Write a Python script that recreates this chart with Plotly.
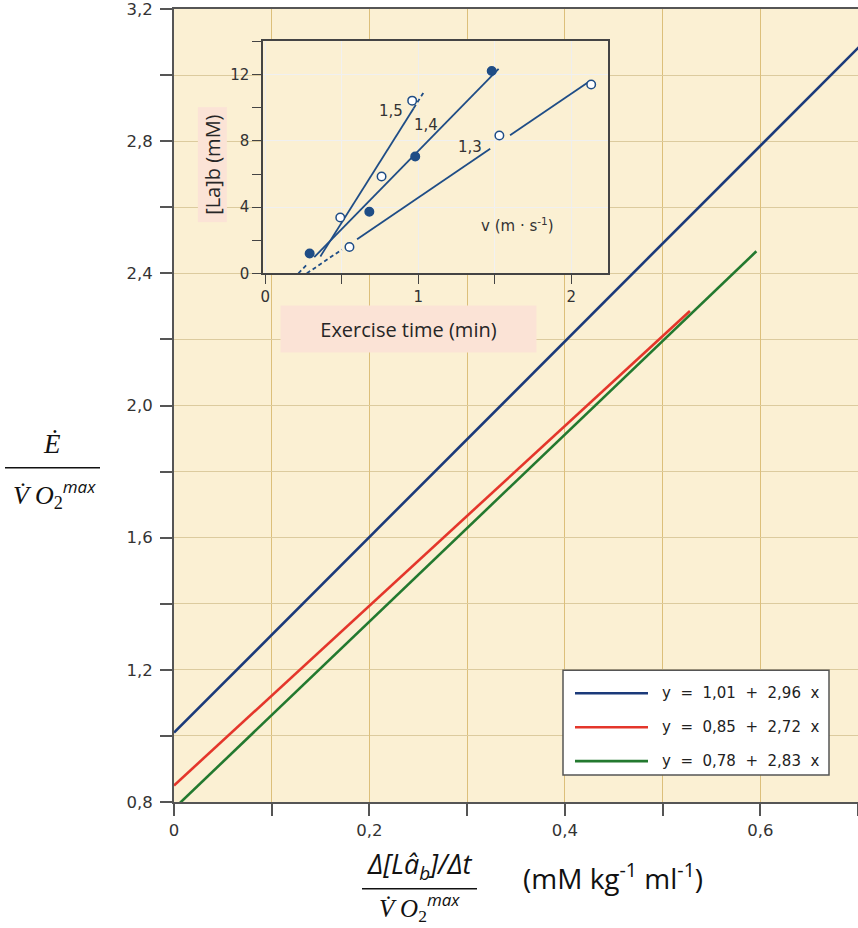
import numpy as np
import plotly.graph_objects as go

# ---- main relationship: E/VO2max = a + b * (Δ[La]/Δt)/VO2max ----
intercepts = [1.01, 0.85, 0.78]
slopes = [2.96, 2.72, 2.83]
x_ends = [0.75, 0.528, 0.596]
line_colors = ["#1b3a7a", "#e4362b", "#23792f"]

x_tick_vals = [0, 0.2, 0.4, 0.6]
x_tick_text = ["0", "0,2", "0,4", "0,6"]
y_tick_vals = [0.8, 1.2, 1.6, 2.0, 2.4, 2.8, 3.2]
y_tick_text = ["0,8", "1,2", "1,6", "2,0", "2,4", "2,8", "3,2"]

# ---- inset: blood lactate vs exercise time at three running speeds ----
speed_labels = ["1,5", "1,4", "1,3"]
time_15 = [0.49, 0.76, 0.96]
lact_15 = [3.38, 5.85, 10.44]
time_14 = [0.29, 0.68, 0.98, 1.48]
lact_14 = [1.20, 3.72, 7.06, 12.23]
time_13 = [0.55, 1.53, 2.13]
lact_13 = [1.59, 8.33, 11.42]

# pixel helpers for layout placement (plot area: x 174..858, y 7..802)
L, R, T, B = 174, 858, 7, 802
W, H = 858, 928


def pxx(p):
    return (p - L) / (R - L)


def pxy(p):
    return (B - p) / (B - T)


def note(xp, yp, text, size, family, color="#111", **kw):
    d = dict(x=pxx(xp), y=pxy(yp), xref="paper", yref="paper", text=text,
             showarrow=False, xanchor="center", yanchor="middle",
             font=dict(family=family, size=size, color=color))
    d.update(kw)
    return d


fig = go.Figure()

for a, b, xe, col in zip(intercepts, slopes, x_ends, line_colors):
    xs = np.array([0.0, xe])
    fig.add_trace(go.Scatter(x=xs, y=a + b * xs, mode="lines",
                             line=dict(color=col, width=2.6),
                             showlegend=False, hoverinfo="skip"))

ink = "#1f4d86"
series = [
    (time_15, lact_15, False,
     [(0.36, 0.97, "solid"), (0.97, 1.04, "dash")]),
    (time_14, lact_14, True,
     [("int", 0.28, "dash"), (0.32, 1.525, "solid")]),
    (time_13, lact_13, False,
     [("int", 0.50, "dash"), (0.60, 1.47, "solid"), (1.60, 2.115, "solid")]),
]

for t, la, filled, segs in series:
    k, c = np.polyfit(t, la, 1)
    for x0, x1, style in segs:
        if x0 == "int":
            x0 = -c / k
        xs = np.array([x0, x1])
        fig.add_trace(go.Scatter(
            x=xs, y=k * xs + c, mode="lines", xaxis="x2", yaxis="y2",
            line=dict(color=ink, width=1.8,
                      dash="4px,3px" if style == "dash" else "solid"),
            showlegend=False, hoverinfo="skip"))
    fig.add_trace(go.Scatter(
        x=t, y=la, mode="markers", xaxis="x2", yaxis="y2",
        marker=dict(size=8.5, color=ink if filled else "white",
                    line=dict(color=ink, width=1.5)),
        showlegend=False, hoverinfo="skip"))

shapes = []
annotations = []

# white panel behind the inset
shapes.append(dict(type="rect", xref="x2 domain", yref="y2 domain",
                   x0=0, x1=1, y0=0, y1=1, layer="below",
                   fillcolor="#fdfdfc", line=dict(width=0)))

# curve labels inside the inset
for txt, xx, yy in [(speed_labels[0], 0.82, 9.8), (speed_labels[1], 1.05, 8.95),
                    (speed_labels[2], 1.34, 7.65)]:
    annotations.append(dict(x=xx, y=yy, xref="x2", yref="y2", text=txt,
                            showarrow=False,
                            font=dict(family="DejaVu Sans", size=15, color="#333")))
annotations.append(dict(x=1.65, y=2.9, xref="x2", yref="y2",
                        text="v (m · s<sup>-1</sup>)", showarrow=False,
                        font=dict(family="DejaVu Sans", size=15, color="#333")))

# inset axis titles on pink tags
annotations.append(note(408, 328, "Exercise time (min)", 20, "Open Sans", "#262626",
                        width=253, height=44, bgcolor="#fbe3d6"))
annotations.append(note(212, 163, "[La]b (mM)", 20, "Open Sans", "#262626",
                        textangle=-90, width=112, height=26, bgcolor="#fbe3d6"))

# legend panel
shapes.append(dict(type="rect", xref="paper", yref="paper",
                   x0=pxx(563), x1=pxx(829), y0=pxy(775), y1=pxy(670),
                   fillcolor="white", line=dict(color="#555", width=1.5)))
for i, (a, b, col) in enumerate(zip(intercepts, slopes, line_colors)):
    yp = 693 + 34 * i
    shapes.append(dict(type="line", xref="paper", yref="paper",
                       x0=pxx(575), x1=pxx(648), y0=pxy(yp), y1=pxy(yp),
                       line=dict(color=col, width=2.6)))
    label = "y \u00a0= \u00a0{} \u00a0+ \u00a0{} \u00a0x".format(
        f"{a:.2f}".replace(".", ","), f"{b:.2f}".replace(".", ","))
    annotations.append(note(660, yp, label, 15, "DejaVu Sans", "#222",
                            xanchor="left"))

# y-axis title as a fraction
serif = "Liberation Serif"
denom = ("<i>V\u0307 O</i><sub>2</sub>"
         "<sup><span style='font-family:Open Sans;font-size:17px'><i>max</i></span></sup>")
annotations.append(note(52, 443, "<i>Ė</i>", 27, serif))
shapes.append(dict(type="line", xref="paper", yref="paper",
                   x0=pxx(5), x1=pxx(100), y0=pxy(467), y1=pxy(467),
                   line=dict(color="#111", width=1.5)))
annotations.append(note(54, 493, denom, 26, serif))

# x-axis title as a fraction plus units
annotations.append(note(420, 866, "<i>Δ[Lâ<sub>b</sub>]/Δt</i>", 27, "Open Sans"))
shapes.append(dict(type="line", xref="paper", yref="paper",
                   x0=pxx(362), x1=pxx(477), y0=pxy(889), y1=pxy(889),
                   line=dict(color="#111", width=1.5)))
annotations.append(note(419, 907, denom, 25, serif, borderpad=0))
annotations.append(note(521, 877, "(mM kg<sup>-1</sup> ml<sup>-1</sup>)", 28,
                        "Open Sans", xanchor="left"))

tickfont = dict(family="DejaVu Sans", size=16.5, color="#333")
fig.update_layout(
    width=W, height=H,
    margin=dict(l=L, r=W - R, t=T, b=H - B),
    paper_bgcolor="white",
    plot_bgcolor="#fbf0d3",
    showlegend=False,
    xaxis=dict(range=[0, 0.7], tickvals=x_tick_vals, ticktext=x_tick_text,
               ticks="outside", ticklen=12, tickwidth=1.5, tickcolor="#555",
               showline=True, linecolor="#555", linewidth=2, mirror=True,
               showgrid=True, gridcolor="#dcbf7a", gridwidth=1.2,
               minor=dict(dtick=0.1, tick0=0, ticks="outside", ticklen=12,
                          tickwidth=1.5, tickcolor="#555", showgrid=True,
                          gridcolor="#dcbf7a", gridwidth=1.2),
               zeroline=False, tickfont=tickfont, ticklabeloverflow="allow",
               fixedrange=True),
    yaxis=dict(range=[0.8, 3.2], tickvals=y_tick_vals, ticktext=y_tick_text,
               ticks="outside", ticklen=12, tickwidth=1.5, tickcolor="#555",
               showline=True, linecolor="#555", linewidth=2, mirror=False,
               showgrid=True, gridcolor="#dccb9e", gridwidth=1.2,
               minor=dict(dtick=0.2, tick0=0.8, ticks="outside", ticklen=12,
                          tickwidth=1.5, tickcolor="#555", showgrid=True,
                          gridcolor="#dccb9e", gridwidth=1.2),
               zeroline=False, tickfont=tickfont, ticklabelstandoff=4,
               ticklabeloverflow="allow", fixedrange=True),
    xaxis2=dict(domain=[pxx(263), pxx(608)], anchor="y2", range=[-0.015, 2.24],
                tickvals=[0, 1, 2], ticks="outside", ticklen=9, tickwidth=1.3,
                tickcolor="#444", showline=True, linecolor="#444", linewidth=1.5,
                mirror=True, showgrid=True, gridcolor="#eeeeee",
                minor=dict(dtick=0.5, tick0=0, ticks="outside", ticklen=9,
                           tickwidth=1.3, tickcolor="#444", showgrid=True,
                           gridcolor="#f1f1f1"),
                zeroline=False,
                tickfont=dict(family="DejaVu Sans", size=15, color="#333"),
                fixedrange=True),
    yaxis2=dict(domain=[pxy(272), pxy(39)], anchor="x2", range=[0, 14.05],
                tickvals=[0, 4, 8, 12], ticks="outside", ticklen=9, tickwidth=1.3,
                tickcolor="#444", showline=True, linecolor="#444", linewidth=1.5,
                mirror=True, showgrid=True, gridcolor="#f0f0f0",
                minor=dict(dtick=2, tick0=0, ticks="outside", ticklen=9,
                           tickwidth=1.3, tickcolor="#444", showgrid=False),
                zeroline=False,
                tickfont=dict(family="DejaVu Sans", size=15, color="#333"),
                fixedrange=True),
    shapes=shapes,
    annotations=annotations,
)

fig.write_html("out.html")
